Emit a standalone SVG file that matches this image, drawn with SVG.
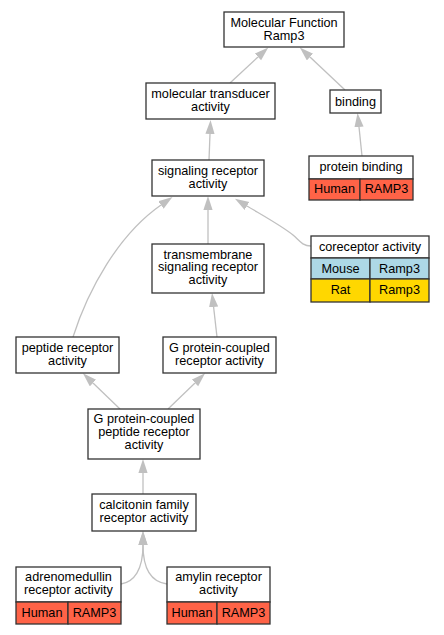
<svg xmlns="http://www.w3.org/2000/svg" width="444" height="635" viewBox="0 0 444 635">
<style>
.box{fill:#fff;stroke:#333;stroke-width:1.3}
.hum{fill:#ff6347;stroke:#333;stroke-width:1.3}
.mou{fill:#add8e6;stroke:#333;stroke-width:1.3}
.rat{fill:#ffd700;stroke:#333;stroke-width:1.3}
text{font-family:"Liberation Sans",Arial,sans-serif;font-size:12.7px;fill:#000;text-anchor:middle}
.edge{fill:none;stroke:#c0c0c0;stroke-width:1.3;marker-end:url(#arr)}
</style>
<defs>
<marker id="arr" markerUnits="userSpaceOnUse" markerWidth="16" markerHeight="12" refX="0" refY="4.6" orient="auto">
<path d="M0,0 L14,4.6 L0,9.2 z" fill="#c0c0c0"/>
</marker>
</defs>
<rect width="444" height="635" fill="#fff"/>
<g id="edges">
<path class="edge" d="M230,83 L258,57"/>
<path class="edge" d="M345,90 L310,57"/>
<path class="edge" d="M209,160 L210,134"/>
<path class="edge" d="M362,156 L359,127"/>
<path class="edge" d="M208,244 L208,210"/>
<path class="edge" d="M311,246 C302,246 299,240 293,235 C282,226 262,215 247,206"/>
<path class="edge" d="M73,337 C88,290 118,235 161,205"/>
<path class="edge" d="M217,337 L213.6,307"/>
<path class="edge" d="M120,409 L93,383"/>
<path class="edge" d="M168,409 L195,383"/>
<path class="edge" d="M143,494 L143,473"/>
<path class="edge" d="M121,584 C134,582 143,570 143,545"/>
<path class="edge" d="M167,584 C152,582 143,570 143,545"/>
</g>
<g id="n_mf">
<rect class="box" x="224" y="12" width="120" height="35"/>
<text x="284" y="26.5">Molecular Function</text>
<text x="284" y="39.5">Ramp3</text>
</g>
<g id="n_transducer">
<rect class="box" x="146" y="83" width="129" height="36"/>
<text x="210.5" y="98">molecular transducer</text>
<text x="210.5" y="111">activity</text>
</g>
<g id="n_binding">
<rect class="box" x="330" y="90" width="51" height="23"/>
<text x="355.5" y="106">binding</text>
</g>
<g id="n_signaling">
<rect class="box" x="152" y="160" width="112" height="36"/>
<text x="208" y="175">signaling receptor</text>
<text x="208" y="188">activity</text>
</g>
<g id="n_proteinbinding">
<rect class="box" x="309" y="156" width="104" height="23"/>
<rect class="hum" x="309" y="179" width="51" height="21"/>
<rect class="hum" x="360" y="179" width="53" height="21"/>
<text x="361" y="170.5">protein binding</text>
<text x="334.5" y="193">Human</text>
<text x="386.5" y="193">RAMP3</text>
</g>
<g id="n_transmembrane">
<rect class="box" x="152" y="244" width="112" height="49"/>
<text x="208" y="258.5">transmembrane</text>
<text x="208" y="271.3">signaling receptor</text>
<text x="208" y="284.3">activity</text>
</g>
<g id="n_coreceptor">
<rect class="box" x="311" y="236" width="118" height="22"/>
<rect class="mou" x="311" y="258" width="59" height="21"/>
<rect class="mou" x="370" y="258" width="59" height="21"/>
<rect class="rat" x="311" y="279" width="59" height="23"/>
<rect class="rat" x="370" y="279" width="59" height="23"/>
<text x="370" y="250.5">coreceptor activity</text>
<text x="340.5" y="272.5">Mouse</text>
<text x="399.5" y="272.5">Ramp3</text>
<text x="340.5" y="293.5">Rat</text>
<text x="399.5" y="293.5">Ramp3</text>
</g>
<g id="n_peptide">
<rect class="box" x="16" y="337" width="103" height="36"/>
<text x="67.5" y="351.7">peptide receptor</text>
<text x="67.5" y="364.5">activity</text>
</g>
<g id="n_gpcr">
<rect class="box" x="163" y="337" width="113" height="36"/>
<text x="219.5" y="351.7">G protein-coupled</text>
<text x="219.5" y="364.5">receptor activity</text>
</g>
<g id="n_gpcpeptide">
<rect class="box" x="88" y="409" width="112" height="50"/>
<text x="144" y="423">G protein-coupled</text>
<text x="144" y="436">peptide receptor</text>
<text x="144" y="449">activity</text>
</g>
<g id="n_calcitonin">
<rect class="box" x="92" y="494" width="104" height="37"/>
<text x="144" y="509.3">calcitonin family</text>
<text x="144" y="522">receptor activity</text>
</g>
<g id="n_adrenomedullin">
<rect class="box" x="16" y="567" width="105" height="35"/>
<rect class="hum" x="16" y="602" width="52" height="22"/>
<rect class="hum" x="68" y="602" width="53" height="22"/>
<text x="68.5" y="581">adrenomedullin</text>
<text x="68.5" y="594">receptor activity</text>
<text x="42" y="617">Human</text>
<text x="94.5" y="617">RAMP3</text>
</g>
<g id="n_amylin">
<rect class="box" x="167" y="567" width="103" height="35"/>
<rect class="hum" x="167" y="602" width="50" height="22"/>
<rect class="hum" x="217" y="602" width="53" height="22"/>
<text x="218.5" y="581">amylin receptor</text>
<text x="218.5" y="594">activity</text>
<text x="192" y="617">Human</text>
<text x="243.5" y="617">RAMP3</text>
</g>
</svg>
